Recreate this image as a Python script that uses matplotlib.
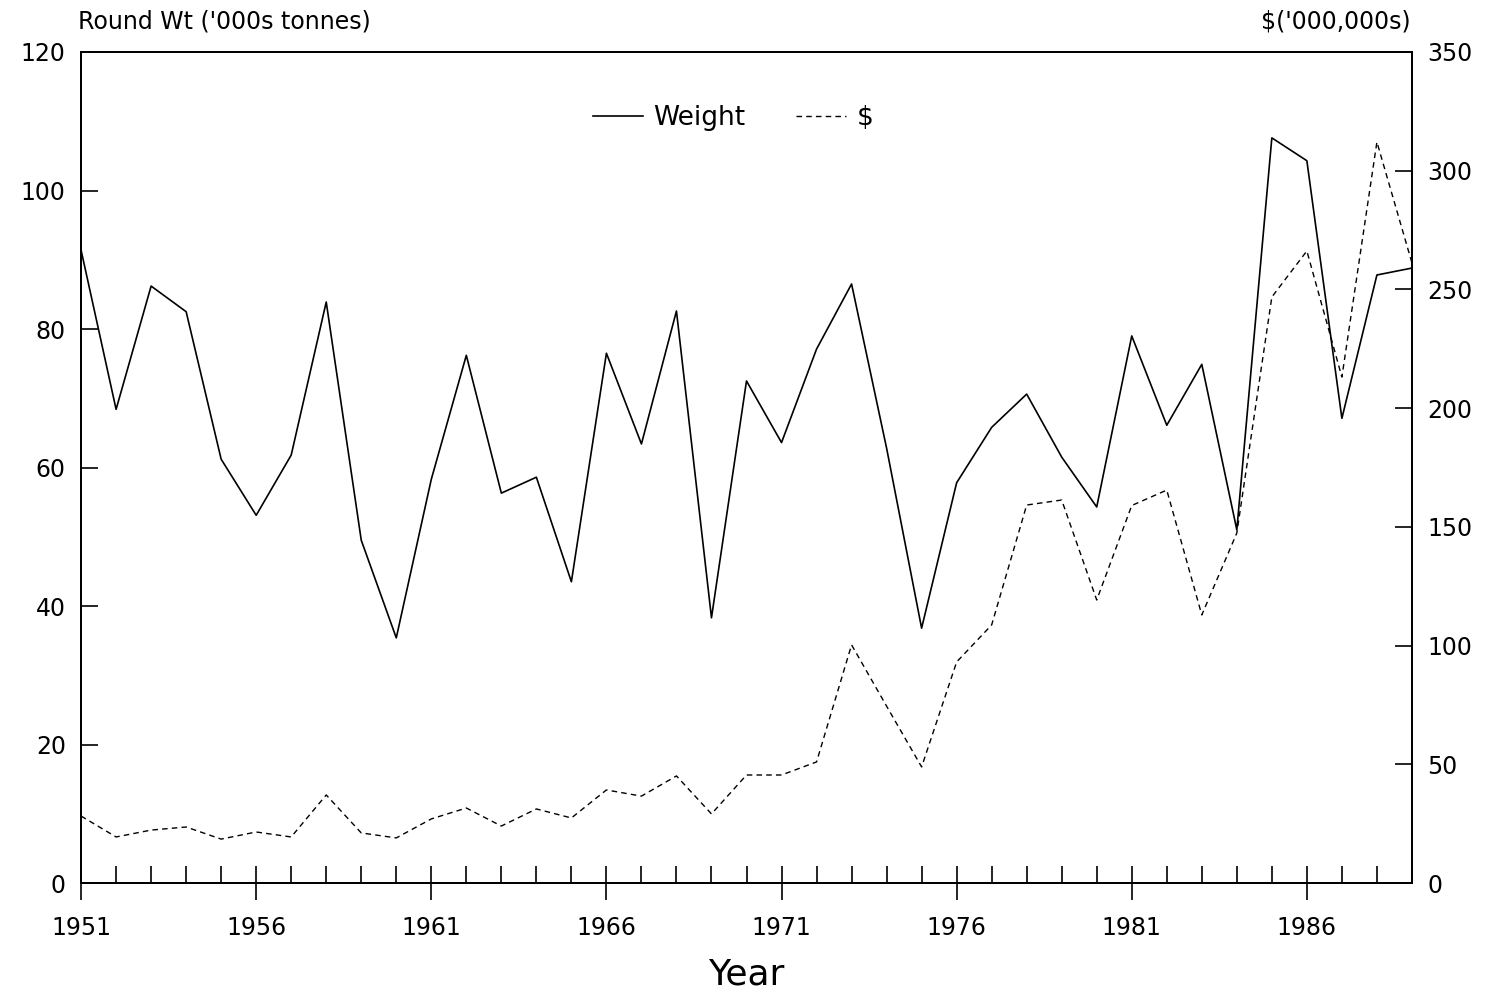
import numpy as np
import matplotlib
matplotlib.use("Agg")
import matplotlib.pyplot as plt
from matplotlib.ticker import MultipleLocator, FixedLocator

# Data
years = list(range(1951, 1990))
weight = [91.4, 68.4, 86.2, 82.5, 61.2, 53.1, 61.8, 83.9, 49.5, 35.4,
          58.3, 76.2, 56.3, 58.6, 43.5, 76.5, 63.4, 82.6, 38.3, 72.5,
          63.6, 77.1, 86.5, 62.8, 36.8, 57.8, 65.8, 70.6, 61.5, 54.3,
          79.0, 66.1, 74.9, 51.0, 107.6, 104.3, 67.1, 87.8, 88.8]
dollars = [28.2, 19.4, 22.3, 23.6, 18.5, 21.5, 19.4, 37.1, 21.1, 19.0,
           27.0, 31.6, 24.0, 31.2, 27.4, 39.2, 36.6, 45.1, 29.1, 45.5,
           45.5, 51.0, 100.3, 74.5, 48.9, 93.1, 108.7, 159.2, 161.3, 119.2,
           159.0, 165.5, 112.9, 147.4, 246.8, 266.2, 213.1, 312.1, 261.2]
major_years = [1951, 1956, 1961, 1966, 1971, 1976, 1981, 1986]

plt.rcParams['font.family'] = ['DejaVu Sans']

fig = plt.figure(figsize=(14.93, 9.98), dpi=100)
ax = fig.add_axes([0.0543, 0.1152, 0.8914, 0.8327])
ax2 = ax.twinx()

l1, = ax.plot(years, weight, color='black', lw=1.2, label='Weight')
l2, = ax2.plot(years, dollars, color='black', lw=1.0, dashes=(4, 3), label='$')

ax.set_xlim(1951, 1989)
ax.set_ylim(0, 120)
ax2.set_ylim(0, 350)

ax.xaxis.set_major_locator(FixedLocator(major_years))
ax.xaxis.set_minor_locator(MultipleLocator(1))
ax.yaxis.set_major_locator(MultipleLocator(20))
ax2.yaxis.set_major_locator(MultipleLocator(50))

ax.tick_params(axis='x', which='major', direction='inout', length=24, width=1.2,
               labelsize=17, pad=12)
ax.tick_params(axis='x', which='minor', direction='in', length=12, width=1.2)
ax.tick_params(axis='y', which='major', direction='in', length=12, width=1.2,
               labelsize=17, pad=11)
ax2.tick_params(axis='y', which='major', direction='in', length=12, width=1.2,
                labelsize=17, pad=11)

for a in (ax, ax2):
    for s in a.spines.values():
        s.set_linewidth(1.4)

ax.set_xlabel('Year', fontsize=26, labelpad=12)

fig.text(0.0523, 0.978, "Round Wt ('000s tonnes)", fontsize=17, ha='left', va='center')
fig.text(0.9447, 0.978, "$('000,000s)", fontsize=17, ha='right', va='center')

ax.legend([l1, l2], ['Weight', '$'], loc='center', bbox_to_anchor=(0.49, 0.92),
          ncol=2, frameon=False, fontsize=19, handlelength=1.9, columnspacing=1.9,
          handletextpad=0.4)

fig.savefig('out.png', dpi=100)
